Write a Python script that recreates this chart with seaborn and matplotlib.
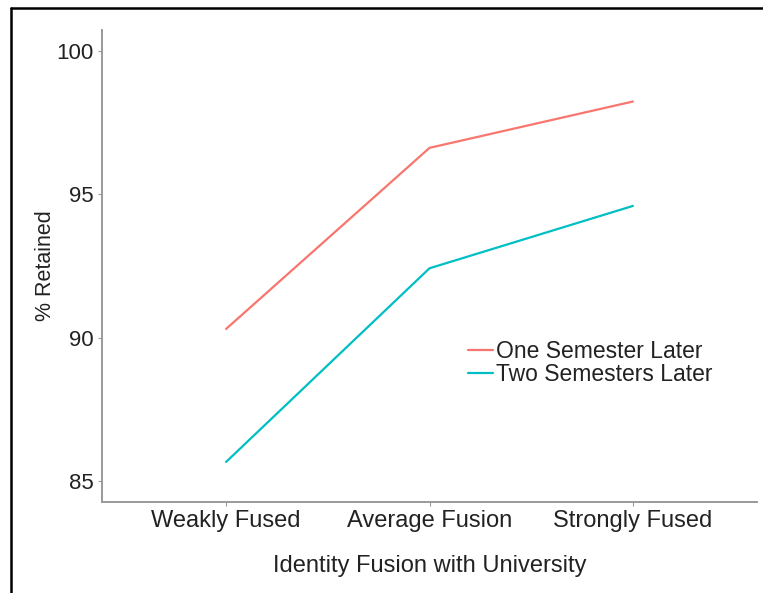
import matplotlib
matplotlib.use("Agg")
import matplotlib.pyplot as plt
from matplotlib.lines import Line2D
import seaborn as sns
import pandas as pd

fusion_levels = ["Weakly Fused", "Average Fusion", "Strongly Fused"]
one_semester = [90.3, 96.63, 98.25]
two_semesters = [85.65, 92.42, 94.6]
series_names = ["One Semester Later", "Two Semesters Later"]

df = pd.DataFrame({
    "fusion": fusion_levels * 2,
    "retained": one_semester + two_semesters,
    "when": [series_names[0]] * 3 + [series_names[1]] * 3,
})

sns.set_style("white")
plt.rcParams["font.family"] = ["Liberation Sans", "DejaVu Sans"]

fig = plt.figure(figsize=(7.63, 5.93), dpi=100)
ax = fig.add_axes([102 / 763, 1 - 502 / 593, (757 - 102) / 763, (502 - 30) / 593])

palette = {series_names[0]: "#F8766D", series_names[1]: "#00BFC4"}
sns.lineplot(data=df, x="fusion", y="retained", hue="when", palette=palette,
             linewidth=1.6, sort=False, ax=ax)

ax.set_xlim(-0.61, 2.61)
ax.set_ylim(84.25, 100.75)
ax.set_yticks([85, 90, 95, 100])
ax.set_xlabel("Identity Fusion with University", fontsize=17, color="#222222", labelpad=16)
ax.set_ylabel("% Retained", fontsize=15.5, color="#222222", labelpad=0)
ax.tick_params(axis="x", labelsize=17)
ax.tick_params(axis="y", labelsize=16)
ax.tick_params(axis="both", labelcolor="#222222", color="#999999",
               length=3, width=0.8, pad=3, left=True, bottom=True)

for side in ["top", "right"]:
    ax.spines[side].set_visible(False)
for side in ["left", "bottom"]:
    ax.spines[side].set_color("#999999")
    ax.spines[side].set_linewidth(1.4)

leg = ax.legend(loc="upper left", bbox_to_anchor=(0.545, 0.362), frameon=False,
                fontsize=16.5, handlelength=1.1, handletextpad=0.1,
                labelspacing=0.0, borderaxespad=0)
for t in leg.get_texts():
    t.set_color("#222222")

# frame of the original screenshot (top and left edges)
fig.add_artist(Line2D([11 / 763, 1], [1 - 8 / 593, 1 - 8 / 593], color="black", lw=1.8,
                      transform=fig.transFigure))
fig.add_artist(Line2D([11 / 763, 11 / 763], [0, 1 - 8 / 593], color="black", lw=1.8,
                      transform=fig.transFigure))

fig.savefig("out.png", dpi=100)
